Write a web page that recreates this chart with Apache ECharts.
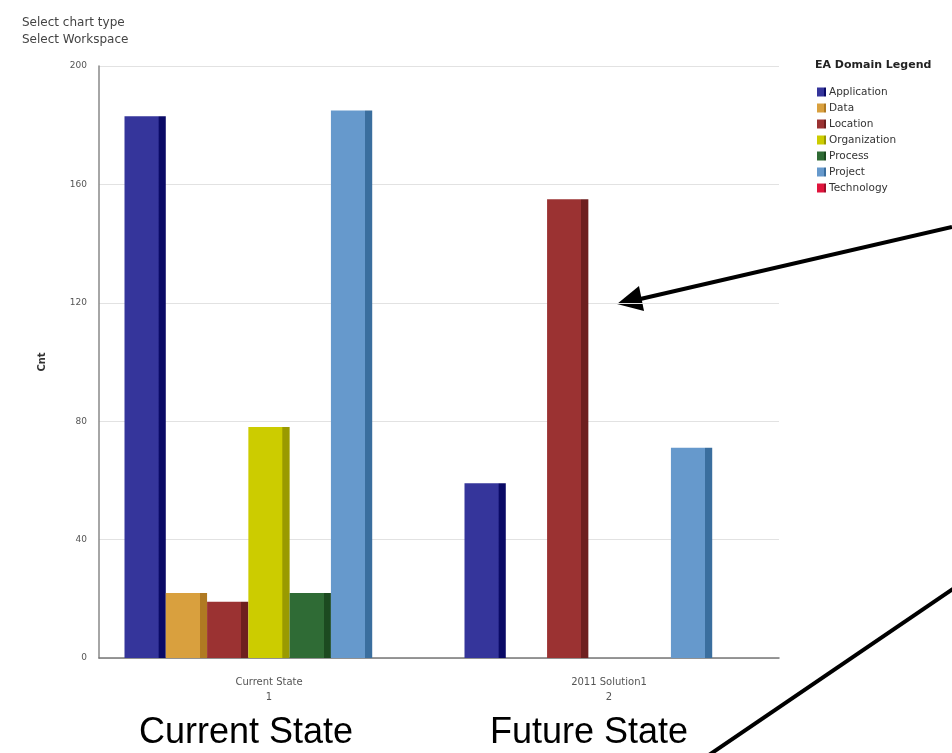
<!DOCTYPE html>
<html>
<head>
<meta charset="utf-8">
<script src="https://cdn.jsdelivr.net/npm/echarts@6/dist/echarts.min.js"></script>
<style>html,body{margin:0;padding:0;background:#fff;}#c{width:952px;height:753px;}</style>
</head>
<body>
<div id="c"></div>
<script>
var categories = ['Current State\n1', '2011 Solution1\n2'];
var seriesNames = ['Application', 'Data', 'Location', 'Organization', 'Process', 'Project', 'Technology'];
var application = [183, 59];
var data = [22, null];
var location_ = [19, 155];
var organization = [78, null];
var process = [22, null];
var project = [185, 71];
var technology = [null, null];
var yTicks = [0, 40, 80, 120, 160, 200];

var frontColors = ['#35359b', '#d9a03e', '#9b3232', '#cccc00', '#2f6b35', '#6699cc', '#e0143c'];
var sideColors  = ['#0a0a66', '#b07a22', '#6e1f1f', '#9a9a00', '#1c4a20', '#3a6e9e', '#a00c2a'];
var values = [application, data, location_, organization, process, project, technology];

function grad(i) {
  return new echarts.graphic.LinearGradient(0, 0, 1, 0, [
    {offset: 0, color: frontColors[i]},
    {offset: 0.82, color: frontColors[i]},
    {offset: 0.83, color: sideColors[i]},
    {offset: 1, color: sideColors[i]}
  ]);
}

var series = seriesNames.map(function (n, i) {
  return {
    name: n,
    type: 'bar',
    data: values[i],
    barGap: '0%',
    barCategoryGap: '15%',
    itemStyle: {color: grad(i)},
    emphasis: {disabled: true}
  };
});

var chart = echarts.init(document.getElementById('c'));
chart.setOption({
  animation: false,
  color: frontColors,
  title: [
    {text: 'Select chart type\nSelect Workspace', left: 17, top: 9,
     textStyle: {fontFamily: 'DejaVu Sans', fontSize: 12, fontWeight: 'normal', color: '#444', lineHeight: 17}},
    {text: 'EA Domain Legend', left: 810, top: 55,
     textStyle: {fontFamily: 'DejaVu Sans', fontSize: 11, fontWeight: 'bold', color: '#222'}}
  ],
  legend: {
    orient: 'vertical', left: 812, top: 81,
    itemWidth: 9, itemHeight: 9, itemGap: 4, icon: 'rect',
    data: seriesNames,
    textStyle: {fontFamily: 'DejaVu Sans', fontSize: 10.5, color: '#333', lineHeight: 12, padding: [0, 0, 0, -2]}
  },
  grid: {left: 99, right: 173, top: 66, bottom: 95},
  xAxis: {
    type: 'category', data: categories,
    axisTick: {show: false},
    axisLine: {lineStyle: {color: '#777', width: 1.5}},
    axisLabel: {fontFamily: 'DejaVu Sans', fontSize: 10, color: '#555', lineHeight: 15, margin: 17}
  },
  yAxis: {
    type: 'value', min: yTicks[0], max: yTicks[yTicks.length - 1], interval: 40,
    name: 'Cnt', nameLocation: 'middle', nameGap: 52, nameRotate: 90,
    nameTextStyle: {fontFamily: 'DejaVu Sans', fontSize: 10, fontWeight: 'bold', color: '#333'},
    axisLine: {show: true, lineStyle: {color: '#888', width: 1.5}},
    axisTick: {show: false},
    axisLabel: {fontFamily: 'DejaVu Sans', fontSize: 9, color: '#555', margin: 12},
    splitLine: {lineStyle: {color: '#e2e2e2'}}
  },
  series: series,
  graphic: [
    {type: 'text', style: {text: 'Current State', x: 246, y: 733, textAlign: 'center', textVerticalAlign: 'middle',
      font: '36px "Liberation Sans", Arial, sans-serif', fill: '#000'}},
    {type: 'text', style: {text: 'Future State', x: 589, y: 733, textAlign: 'center', textVerticalAlign: 'middle',
      font: '36px "Liberation Sans", Arial, sans-serif', fill: '#000'}},
    {type: 'line', shape: {x1: 952, y1: 227, x2: 636, y2: 300}, style: {stroke: '#000', lineWidth: 4}},
    {type: 'polygon', shape: {points: [[617, 304], [639, 286], [644, 311]]}, style: {fill: '#000'}},
    {type: 'line', shape: {x1: 953, y1: 589, x2: 706, y2: 757}, style: {stroke: '#000', lineWidth: 4}}
  ]
});
</script>
</body>
</html>
